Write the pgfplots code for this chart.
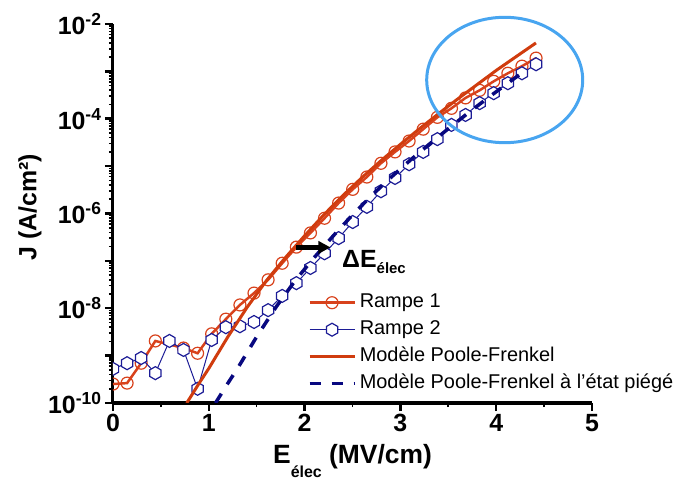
\documentclass[border=0pt]{standalone}
\usepackage{fontspec}
\setmainfont{Liberation Sans}
\usepackage{pgfplots}
\pgfplotsset{compat=1.18}
\usetikzlibrary{arrows.meta}
\definecolor{rampered}{RGB}{216,66,28}
\definecolor{modelred}{RGB}{208,60,14}
\definecolor{hexblue}{RGB}{28,28,150}
\definecolor{navyd}{RGB}{8,8,128}
\definecolor{ellblue}{RGB}{72,165,240}

\pgfdeclareplotmark{hexagon}{%
  \pgfpathmoveto{\pgfpointpolar{90}{\pgfplotmarksize}}%
  \pgfpathlineto{\pgfpointpolar{30}{\pgfplotmarksize}}%
  \pgfpathlineto{\pgfpointpolar{-30}{\pgfplotmarksize}}%
  \pgfpathlineto{\pgfpointpolar{-90}{\pgfplotmarksize}}%
  \pgfpathlineto{\pgfpointpolar{-150}{\pgfplotmarksize}}%
  \pgfpathlineto{\pgfpointpolar{150}{\pgfplotmarksize}}%
  \pgfpathclose
  \pgfusepathqfillstroke}

\begin{document}
\begin{tikzpicture}
\useasboundingbox (-113bp,-76bp) rectangle (565bp,403bp);
\begin{axis}[
  at={(0,0)}, anchor=south west, scale only axis,
  width=479bp, height=379bp,
  xmin=0, xmax=5, ymin=-10, ymax=-2,
  axis x line=bottom, axis y line=left,
  axis line style={-, line width=3bp},
  xtick={0,1,2,3,4,5}, xticklabels={0,1,2,3,4,5},
  minor xtick={0.5,1.5,2.5,3.5,4.5},
  ytick={-10,-9,-8,-7,-6,-5,-4,-3,-2},
  yticklabels={10\textsuperscript{-10},{},10\textsuperscript{-8},{},10\textsuperscript{-6},{},10\textsuperscript{-4},{},10\textsuperscript{-2}},
  minor ytick={-9.699,-9.523,-9.398,-9.301,-9.222,-9.155,-9.097,-9.046,
               -8.699,-8.523,-8.398,-8.301,-8.222,-8.155,-8.097,-8.046,
               -7.699,-7.523,-7.398,-7.301,-7.222,-7.155,-7.097,-7.046,
               -6.699,-6.523,-6.398,-6.301,-6.222,-6.155,-6.097,-6.046,
               -5.699,-5.523,-5.398,-5.301,-5.222,-5.155,-5.097,-5.046,
               -4.699,-4.523,-4.398,-4.301,-4.222,-4.155,-4.097,-4.046,
               -3.699,-3.523,-3.398,-3.301,-3.222,-3.155,-3.097,-3.046,
               -2.699,-2.523,-2.398,-2.301,-2.222,-2.155,-2.097,-2.046},
  tick align=outside,
  major tick length=8bp, minor tick length=4bp,
  major tick style={line width=2.5bp, black},
  minor tick style={line width=1.6bp, black},
  ticklabel style={font=\bfseries\fontsize{25}{25}\selectfont},
  clip marker paths=true,
  legend cell align=left,
  legend image code/.code={\draw[mark repeat=2,mark phase=2] plot coordinates {(0bp,0bp) (22.5bp,0bp) (45bp,0bp)};},
  legend style={draw=none, fill=none, at={(0.40,0.306)}, anchor=north west,
    font=\fontsize{20}{20}\selectfont, row sep=0bp,
    nodes={inner sep=3.5bp, text depth=5bp, text height=15bp}},
]
\addplot[rampered, line width=2.5bp, mark=o, mark size=6bp, mark options={solid, fill=white, line width=1.2bp}]
coordinates {(0,-9.60)(0.147,-9.58)(0.294,-9.16)(0.442,-8.69)(0.736,-8.84)(0.883,-8.95)(1.030,-8.54)(1.178,-8.23)(1.325,-7.93)(1.472,-7.68)(1.619,-7.40)(1.766,-7.05)(1.914,-6.71)(2.061,-6.41)(2.208,-6.10)(2.355,-5.78)(2.502,-5.49)(2.650,-5.23)(2.797,-4.94)(2.944,-4.70)(3.091,-4.47)(3.238,-4.22)(3.386,-3.97)(3.533,-3.78)(3.680,-3.56)(3.827,-3.40)(3.974,-3.21)(4.122,-3.04)(4.269,-2.89)(4.416,-2.72)};
\addlegendentry{Rampe 1}
\addplot[hexblue, line width=1bp, mark=hexagon, mark size=6.5bp, mark options={solid, fill=white, line width=1.2bp}]
coordinates {(0,-9.28)(0.147,-9.16)(0.294,-9.05)(0.442,-9.37)(0.589,-8.69)(0.736,-8.88)(0.883,-9.70)(1.030,-8.67)(1.178,-8.40)(1.325,-8.38)(1.472,-8.29)(1.619,-8.04)(1.766,-7.74)(1.914,-7.47)(2.061,-7.15)(2.208,-6.84)(2.355,-6.52)(2.502,-6.18)(2.650,-5.86)(2.797,-5.53)(2.944,-5.25)(3.091,-4.96)(3.238,-4.70)(3.386,-4.43)(3.533,-4.13)(3.680,-3.92)(3.827,-3.67)(3.974,-3.46)(4.122,-3.25)(4.269,-3.04)(4.416,-2.85)};
\addlegendentry{Rampe 2}
\addplot[modelred, line width=3bp, no marks]
coordinates {(0.77,-10.0)(0.9,-9.58)(1.0,-9.27)(1.2,-8.6)(1.4,-7.98)(1.6,-7.42)(1.8,-6.93)(2.0,-6.47)(2.2,-6.03)(2.4,-5.62)(2.6,-5.24)(2.8,-4.88)(3.0,-4.54)(3.2,-4.21)(3.4,-3.89)(3.6,-3.58)(3.8,-3.28)(4.0,-2.98)(4.2,-2.70)(4.415,-2.40)};
\addlegendentry{Modèle Poole-Frenkel}
\addplot[navyd, line width=3.5bp, dash pattern=on 11bp off 11bp, no marks]
coordinates {(1.07,-10.0)(1.2,-9.58)(1.3,-9.27)(1.5,-8.6)(1.7,-7.98)(1.9,-7.42)(2.1,-6.93)(2.3,-6.47)(2.5,-6.03)(2.7,-5.62)(2.9,-5.24)(3.1,-4.88)(3.3,-4.54)(3.5,-4.21)(3.7,-3.89)(3.9,-3.58)(4.1,-3.28)(4.27,-3.03)};
\addlegendentry{Modèle Poole-Frenkel à l'état piégé}
\draw[-{Triangle[length=12bp,width=12bp]}, line width=4.5bp, black] (axis cs:1.914,-6.715) -- (axis cs:2.27,-6.715);
\end{axis}
\draw[ellblue, line width=3bp] (391.7bp,323bp) ellipse [x radius=78bp, y radius=62.7bp];
\node[anchor=base west, inner sep=0pt] at (229bp,135bp) {\bfseries\fontsize{25}{25}\selectfont ΔE\raisebox{-6bp}{\fontsize{15}{15}\selectfont élec}};
\node[anchor=base, inner sep=0pt] at (239.5bp,-60bp) {\bfseries\fontsize{26.5}{26.5}\selectfont E\raisebox{-14bp}{\fontsize{16}{16}\selectfont élec} (MV/cm)};
\node[rotate=90, anchor=center, inner sep=0pt] at (-83bp,196bp) {\bfseries\fontsize{25}{25}\selectfont J (A/cm²)};
\end{tikzpicture}
\end{document}
